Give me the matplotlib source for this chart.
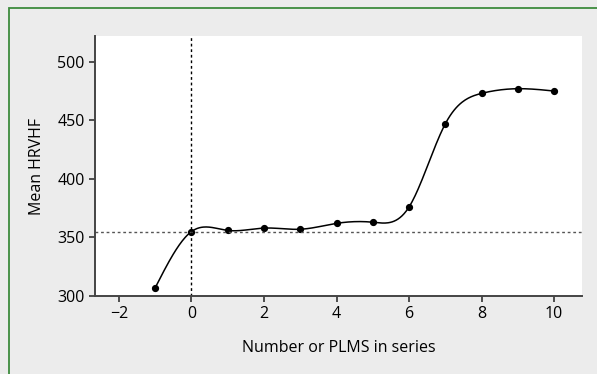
import numpy as np
import matplotlib.pyplot as plt
from matplotlib.patches import Rectangle

plt.rcParams['font.family'] = ['Open Sans', 'DejaVu Sans']

x = np.array([-1, 0, 1, 2, 3, 4, 5, 6, 7, 8, 9, 10])
y = np.array([307, 355, 356, 358, 357, 362, 363, 376, 447, 473, 477, 475])
baseline = 355


def natural_spline(xs, ys, xnew):
    n = len(xs)
    h = np.diff(xs).astype(float)
    A = np.zeros((n, n))
    b = np.zeros(n)
    A[0, 0] = A[-1, -1] = 1
    for i in range(1, n - 1):
        A[i, i - 1] = h[i - 1]
        A[i, i] = 2 * (h[i - 1] + h[i])
        A[i, i + 1] = h[i]
        b[i] = 6 * ((ys[i + 1] - ys[i]) / h[i] - (ys[i] - ys[i - 1]) / h[i - 1])
    M = np.linalg.solve(A, b)
    idx = np.clip(np.searchsorted(xs, xnew) - 1, 0, n - 2)
    x0, x1 = xs[idx], xs[idx + 1]
    hh = x1 - x0
    t0, t1 = x1 - xnew, xnew - x0
    return (M[idx] * t0**3 / (6 * hh) + M[idx + 1] * t1**3 / (6 * hh)
            + (ys[idx] / hh - M[idx] * hh / 6) * t0
            + (ys[idx + 1] / hh - M[idx + 1] * hh / 6) * t1)


fig = plt.figure(figsize=(5.97, 3.74), dpi=100)
fig.patch.set_facecolor('#ececec')
fig.patches.append(Rectangle((8.5 / 597, -0.1), 1.1, 1 - 8.5 / 374 + 0.1,
                             transform=fig.transFigure, fill=False,
                             edgecolor='#3d8b3d', linewidth=1.3))

ax = fig.add_axes([95 / 597, 1 - 296 / 374, (582 - 95) / 597, (296 - 36) / 374])
ax.set_facecolor('white')

xs = np.linspace(x.min(), x.max(), 400)
ax.plot(xs, natural_spline(x, y, xs), color='black', lw=1.1)
ax.plot(x, y, 'o', color='black', ms=4.2)
ax.axhline(baseline, color='#555555', ls=(0, (2, 2)), lw=1)
ax.axvline(0, color='black', ls=(0, (2, 2)), lw=1)

ax.set_xlim(-2.66, 10.77)
ax.set_ylim(300, 522)
ax.set_xticks([-2, 0, 2, 4, 6, 8, 10])
ax.set_xticklabels(['\u22122', '0', '2', '4', '6', '8', '10'])
ax.set_yticks([300, 350, 400, 450, 500])
for s in ['top', 'right']:
    ax.spines[s].set_visible(False)
for s in ['left', 'bottom']:
    ax.spines[s].set_color('#444444')
    ax.spines[s].set_linewidth(1.4)
ax.tick_params(direction='out', length=4.5, width=1.2, color='#333333',
               labelsize=11.5, pad=3)
ax.set_xlabel('Number or PLMS in series', fontsize=11.5, labelpad=13)
ax.set_ylabel('Mean HRVHF', fontsize=11.5, labelpad=9)

fig.savefig('out.png', dpi=100, facecolor=fig.get_facecolor())
